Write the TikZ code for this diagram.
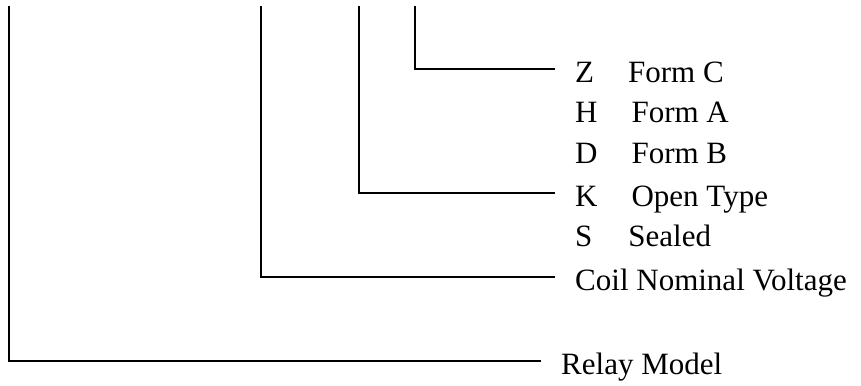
\documentclass[tikz,border=0pt]{standalone}
\usepackage{fontspec}
\setmainfont{Liberation Serif}
\begin{document}
\begin{tikzpicture}[x=1bp,y=-1bp,
  lbl/.style={anchor=base west,inner ysep=0pt,inner xsep=20bp,text height=27bp,text depth=1bp,font=\fontsize{31bp}{36bp}\selectfont},
  txt/.style={anchor=base west,inner sep=0pt,font=\fontsize{31bp}{36bp}\selectfont},
  wire/.style={line width=1.5bp,black}]
\useasboundingbox (0,0) rectangle (861,385);
\coordinate (t1) at (9,6);
\coordinate (t2) at (261,6);
\coordinate (t3) at (359,6);
\coordinate (t4) at (415,6);
\node[lbl] (z) at (555,82) {Z\hspace*{34bp}Form C};
\node[txt] (h) at (575,122) {H\hspace*{34bp}Form A};
\node[txt] (d) at (575,163) {D\hspace*{34bp}Form B};
\node[lbl] (k) at (555,206) {K\hspace*{34bp}Open Type};
\node[txt] (s) at (575,246) {S\hspace*{36bp}Sealed};
\node[lbl] (c) at (555,290) {Coil Nominal Voltage};
\node[lbl] (r) at (541,374) {Relay Model};
\draw[wire] (t4) |- (z.west);
\draw[wire] (t3) |- (k.west);
\draw[wire] (t2) |- (c.west);
\draw[wire] (t1) |- (r.west);
\end{tikzpicture}
\end{document}
